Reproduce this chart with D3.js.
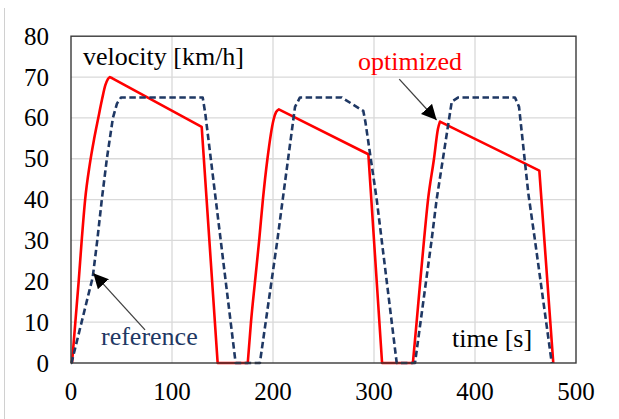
<!DOCTYPE html>
<html><head><meta charset="utf-8">
<script src="https://cdn.jsdelivr.net/npm/d3@7"></script>
</head><body style="margin:0;background:#fff"><svg id="c" width="619" height="419" style="display:block"></svg>
<script>
const xTicks=[0,100,200,300,400,500];
const yTicks=[0,10,20,30,40,50,60,70,80];
// optimized profile: [rise (curved), cruise+brake (linear), ...]
const optRise1T=[1,4.3,7.6,10.6,14,18.5,23,27,30.7,34,36.5,38.5];
const optRise1V=[0,10,20,30,40,48.5,55,60,64.5,68,69.5,70];
const optRest1T=[38.5,41,129.4,145.2,175];
const optRest1V=[70,69.7,57.8,0,0];
const optRise2T=[175,178.2,182.2,186.3,190,194.5,200.5,203,205.8];
const optRise2V=[0,10,20,30,40,50,59.5,61.4,62.1];
const optRest2T=[205.8,294.4,308,338.5];
const optRest2V=[62.1,51.1,0,0];
const optRise3T=[338.5,342.2,345.8,349.5,353.5,359.4,363.3,365.3];
const optRise3V=[0,10,20,30,40,50,57.3,59.1];
const optRest3T=[365.3,463.7,477.5];
const optRest3V=[59.1,47.1,0];
const refT=[0,0.5,21.5,26,30.5,35.5,41.5,45.5,49.5,130.4,133,163,187,204.3,209.6,221.8,226.7,268,289.4,291.5,302.7,322.5,340.6,357,362,377,383.5,439.6,443.6,452.8,459.4,476];
const refV=[0,0,21,30,40,50,60,63.5,65,65,61,0,0,30,40,62.7,65,65,61.7,59,40,0,0,30,40,64,65,65,62.7,41.5,30,0];
const labels=["velocity [km/h]","time [s]","optimized","reference"];

const FONT="Liberation Serif";
const svg=d3.select("#c");
const x=d3.scaleLinear().domain([0,500]).range([71,576]);
const y=d3.scaleLinear().domain([0,80]).range([363,36.2]);
const zip=(T,V)=>T.map((t,i)=>[t,V[i]]);

svg.append("line").attr("x1",4.5).attr("x2",4.5).attr("y1",8).attr("y2",419).attr("stroke","#d0d0d0").attr("stroke-width",1);

svg.append("g").selectAll("line").data(xTicks.slice(1,-1)).join("line")
 .attr("x1",d=>x(d)).attr("x2",d=>x(d)).attr("y1",y(80)).attr("y2",y(0)).attr("stroke","#d9d9d9").attr("stroke-width",1.3);
svg.append("g").selectAll("line").data(yTicks.slice(1,-1)).join("line")
 .attr("x1",x(0)).attr("x2",x(500)).attr("y1",d=>y(d)).attr("y2",d=>y(d)).attr("stroke","#d9d9d9").attr("stroke-width",1.3);

svg.selectAll("text.yt").data(yTicks).join("text").attr("class","yt")
 .attr("x",49).attr("y",d=>y(d)+8.5).attr("text-anchor","end")
 .attr("font-family",FONT).attr("font-size",25).attr("fill","#000").text(d=>d);
svg.selectAll("text.xt").data(xTicks).join("text").attr("class","xt")
 .attr("x",d=>x(d)).attr("y",400).attr("text-anchor","middle")
 .attr("font-family",FONT).attr("font-size",25).attr("fill","#000").text(d=>d);

const lin=d3.line().x(d=>x(d[0])).y(d=>y(d[1]));
const smooth=d3.line().x(d=>x(d[0])).y(d=>y(d[1])).curve(d3.curveMonotoneX);
const optParts=[[optRise1T,optRise1V,smooth],[optRest1T,optRest1V,lin],[optRise2T,optRise2V,smooth],[optRest2T,optRest2V,lin],[optRise3T,optRise3V,smooth],[optRest3T,optRest3V,lin]];
const optPath=optParts.map(([T,V,g],i)=>{const s=g(zip(T,V));return i?s.replace(/^M[^LC]*/,""):s;}).join("");
svg.append("path").attr("d",optPath).attr("fill","none")
 .attr("stroke","#ff0000").attr("stroke-width",2.6).attr("stroke-linejoin","round");
svg.append("path").datum(zip(refT,refV)).attr("d",lin).attr("fill","none")
 .attr("stroke","#1f3864").attr("stroke-width",2.6).attr("stroke-dasharray","6.5,3.5").attr("stroke-linejoin","round");

svg.append("rect").attr("x",x(0)).attr("y",y(80)).attr("width",x(500)-x(0)).attr("height",y(0)-y(80))
 .attr("fill","none").attr("stroke","#3a3a3a").attr("stroke-width",1.4);

const defs=svg.append("defs");
defs.append("marker").attr("id","ah").attr("viewBox","0 0 10 10").attr("refX",10).attr("refY",5)
 .attr("markerWidth",15).attr("markerHeight",15).attr("markerUnits","userSpaceOnUse").attr("orient","auto")
 .append("path").attr("d","M0,0L10,5L0,10z").attr("fill","#000");
const arrows=[[[73.3,8.1],[22.1,22]],[[325,69.5],[362,59.5]]];
svg.append("g").selectAll("line").data(arrows).join("line")
 .attr("x1",d=>x(d[0][0])).attr("y1",d=>y(d[0][1])).attr("x2",d=>x(d[1][0])).attr("y2",d=>y(d[1][1]))
 .attr("stroke","#404040").attr("stroke-width",1.3).attr("marker-end","url(#ah)");

const ann=[[labels[0],83,65,"#000"],[labels[1],452,346.5,"#000"],[labels[2],358,70,"#ff0000"],[labels[3],101,345,"#1f3864"]];
svg.selectAll("text.an").data(ann).join("text").attr("class","an")
 .attr("x",d=>d[1]).attr("y",d=>d[2]).attr("fill",d=>d[3])
 .attr("font-family",FONT).attr("font-size",26).text(d=>d[0]);
</script></body></html>
